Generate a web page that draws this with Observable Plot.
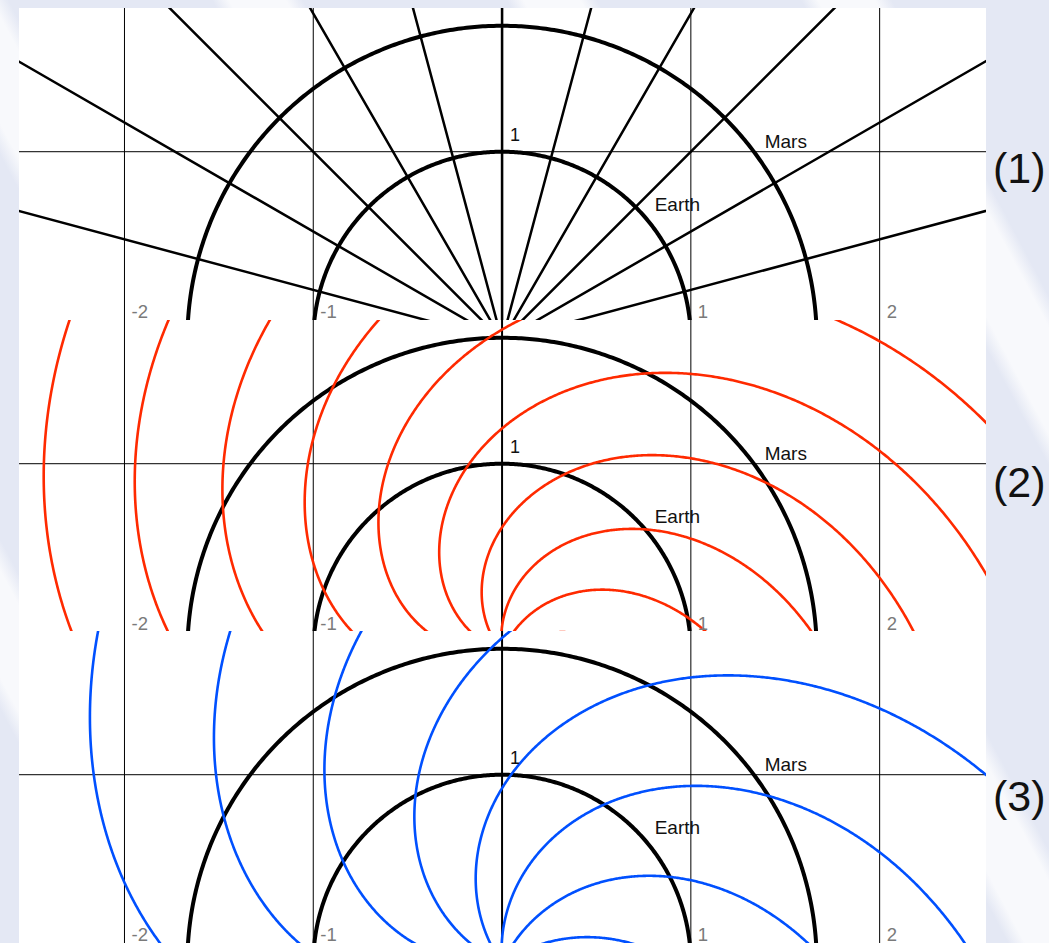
<!DOCTYPE html>
<html>
<head>
<meta charset="utf-8">
<script src="https://cdn.jsdelivr.net/npm/d3@7"></script>
<script src="https://cdn.jsdelivr.net/npm/@observablehq/plot@0.6"></script>
<style>
  html, body { margin: 0; padding: 0; }
  body {
    width: 1049px; height: 943px; position: relative; overflow: hidden;
    font-family: "Liberation Sans", Arial, Helvetica, sans-serif;
    background-color: #e7eaf5;
    background-image: repeating-linear-gradient(62deg, #e4e8f4 0px, #e4e8f4 110px, #f8f9fc 125px, #f8f9fc 175px, #e4e8f4 190px, #e4e8f4 260px);
  }
  .panel { position: absolute; left: 19px; width: 967px; height: 312px; background: #fff; }
  .panel svg { display: block; }
  .tag { position: absolute; left: 993px; font-size: 43px; line-height: 43px; color: #111; white-space: nowrap; }
</style>
</head>
<body>
<div id="p1" class="panel" style="top:8px"></div>
<div id="p2" class="panel" style="top:320px"></div>
<div id="p3" class="panel" style="top:631px"></div>
<div id="t1" class="tag" style="top:147px"></div>
<div id="t2" class="tag" style="top:461px"></div>
<div id="t3" class="tag" style="top:775px"></div>
<script>
// ---- data ----
const panelTags = ["(1)", "(2)", "(3)"];
const xTicks = [-2, -1, 1, 2];
const xTickLabels = ["-2", "-1", "1", "2"];
const yTicks = [1];
const yTickLabels = ["1"];
const orbitNames = ["Earth", "Mars"];
const orbitRadii = [1, 1.667];
const orbitLabelAngles = [40, 36];
// panel (1): radial field lines, directions in degrees
const radialAngles = [0, 15, 30, 45, 60, 75, 90, 105, 120, 135, 150, 165, 180];
// panel (2): red spirals, starting directions (deg) and radial distance per radian of rotation
const redStartAngles = [38, 68, 98, 128, 158, 188, 218, 248, 278, 308];
const redWindRate = 1.0;
// panel (3): blue spirals
const blueStartAngles = [35, 65, 95, 125, 155, 185, 215, 245, 275];
const blueWindRate = 1.52;

// ---- layout ----
const W = 967, H = 312;
const xDomain = [-2.556, 2.566];
const yDomain = [0.106, 1.7585];
const RED = "#ff2a00", BLUE = "#0050ff";
const FONT = "'Liberation Sans', Arial, Helvetica, sans-serif";

const rad = d => d * Math.PI / 180;

function circlePoints(r, id) {
  const pts = [];
  for (let a = 0; a <= 180; a += 0.5) pts.push({id, x: r * Math.cos(rad(a)), y: r * Math.sin(rad(a))});
  return pts;
}
function radialPoints(angle, id) {
  return [0, 4].map(r => ({id, x: r * Math.cos(rad(angle)), y: r * Math.sin(rad(angle))}));
}
function spiralPoints(start, rate, id) {
  const pts = [];
  const t0 = rad(start);
  for (let r = 0; r <= 3.4; r += 0.005) {
    const t = t0 - r / rate;
    pts.push({id, x: r * Math.cos(t), y: r * Math.sin(t)});
  }
  return pts;
}

const orbitData = orbitRadii.flatMap((r, i) => circlePoints(r, orbitNames[i]));
const orbitLabels = orbitNames.map((name, i) => ({
  name,
  x: orbitRadii[i] * Math.cos(rad(orbitLabelAngles[i])),
  y: orbitRadii[i] * Math.sin(rad(orbitLabelAngles[i]))
}));

function panel(fieldMarks) {
  return Plot.plot({
    width: W, height: H, margin: 0,
    x: {domain: xDomain, axis: null},
    y: {domain: yDomain, axis: null},
    style: {background: "#fff", fontFamily: FONT, overflow: "hidden"},
    marks: [
      Plot.ruleX(xTicks, {stroke: "#000", strokeWidth: 1}),
      Plot.ruleY(yTicks, {stroke: "#000", strokeWidth: 1}),
      Plot.ruleX([0], {stroke: "#000", strokeWidth: 2}),
      Plot.line(orbitData, {x: "x", y: "y", z: "id", stroke: "#000", strokeWidth: 4, clip: true}),
      ...fieldMarks,
      Plot.text(xTicks, {x: d => d, text: (d, i) => xTickLabels[i], frameAnchor: "bottom", textAnchor: "start", lineAnchor: "bottom", dx: 7, dy: -3, fill: "#7a7a7a", fontSize: 18.5}),
      Plot.text(yTicks, {x: () => 0, y: d => d, text: (d, i) => yTickLabels[i], textAnchor: "start", lineAnchor: "bottom", dx: 8, dy: -11, fill: "#111", fontSize: 18}),
      Plot.text(orbitLabels, {x: "x", y: "y", text: "name", textAnchor: "start", lineAnchor: "bottom", dx: 8, dy: -8, fill: "#111", fontSize: 19})
    ]
  });
}

const radialData = radialAngles.flatMap((a, i) => radialPoints(a, i));
const redData = redStartAngles.flatMap((a, i) => spiralPoints(a, redWindRate, i));
const blueData = blueStartAngles.flatMap((a, i) => spiralPoints(a, blueWindRate, i));

document.getElementById("p1").append(panel([
  Plot.line(radialData, {x: "x", y: "y", z: "id", stroke: "#000", strokeWidth: 2.5, clip: true})
]));
document.getElementById("p2").append(panel([
  Plot.line(redData, {x: "x", y: "y", z: "id", stroke: RED, strokeWidth: 2.6, clip: true})
]));
document.getElementById("p3").append(panel([
  Plot.line(blueData, {x: "x", y: "y", z: "id", stroke: BLUE, strokeWidth: 2.6, clip: true})
]));
["t1", "t2", "t3"].forEach((id, i) => { document.getElementById(id).textContent = panelTags[i]; });
</script>
</body>
</html>
